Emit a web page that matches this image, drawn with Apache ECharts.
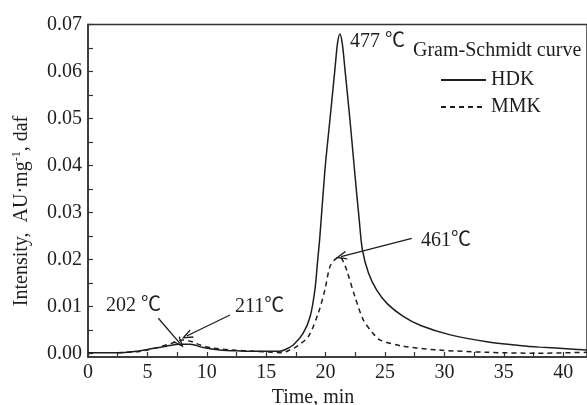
<!DOCTYPE html>
<html>
<head>
<meta charset="utf-8">
<script src="https://cdn.jsdelivr.net/npm/echarts@6/dist/echarts.min.js"></script>
<style>
html,body{margin:0;padding:0;background:#fff;}
#c{width:587px;height:405px;}
</style>
</head>
<body>
<div id="c"></div>
<script>
// ---- data ----
var hdkData = [
  [0,0.0002],[2.5,0.0002],[4,0.0005],[5,0.0009],[6.6,0.0016],[7.7,0.0020],[8.6,0.0020],
  [9.7,0.0013],[11.1,0.0008],[12.8,0.0006],[14.5,0.0005],[16.1,0.0005],[16.7,0.0010],
  [17.3,0.0019],[18.1,0.0043],[18.7,0.0079],[19.1,0.0136],[19.3,0.0190],[19.52,0.0250],
  [19.94,0.0390],[20.36,0.0497],[20.78,0.0604],[21.0,0.0660],[21.2,0.0680],[21.4,0.0660],
  [21.63,0.0604],[22.05,0.0497],[22.47,0.0380],[22.83,0.0284],[23.1,0.0220],[23.6,0.0172],
  [24.3,0.0135],[25.2,0.0106],[26.5,0.0080],[28.0,0.0060],[30.5,0.0040],[33.7,0.0025],
  [36.5,0.0017],[38.0,0.0014],[40.0,0.0011],[42.0,0.0008]
];
var mmkData = [
  [2.5,0.0002],[4,0.0004],[5,0.0008],[6,0.0014],[7,0.0022],[8,0.0029],[8.7,0.0026],
  [9.5,0.0018],[10.5,0.0012],[12,0.0008],[14,0.0005],[15.5,0.0003],[16.3,0.0002],
  [17.0,0.0008],[17.55,0.0015],[18.53,0.0036],[19.38,0.0086],[19.94,0.0136],[20.36,0.0185],
  [20.78,0.0200],[21.2,0.0206],[21.5,0.0195],[21.77,0.0178],[22.47,0.0121],[23.17,0.0072],
  [24.0,0.0043],[24.6,0.0029],[26.5,0.0016],[29.4,0.0008],[33.6,0.0003],[37.8,0.0001],[42.0,0.0003]
];
var seriesNames = ['HDK','MMK'];
var xTickValues = [0,2.5,5,7.5,10,12.5,15,17.5,20,22.5,25,27.5,30,32.5,35,37.5,40];
var xLabelValues = [0,5,10,15,20,25,30,35,40];
var yTickValues = [0,0.005,0.01,0.015,0.02,0.025,0.03,0.035,0.04,0.045,0.05,0.055,0.06,0.065,0.07];
var yLabelValues = [0,0.01,0.02,0.03,0.04,0.05,0.06,0.07];
// annotations: [label, x, y] (left edge / vertical middle of text)
var peakLabels = [
  ['477 ℃',22.05,0.0664],
  ['461℃',28.03,0.0240],
  ['202 ℃',1.52,0.0101],
  ['211℃',12.37,0.0099]
];
// arrows: [tailX, tailY, headX, headY]
var arrows = [
  [27.25,0.02454,21.3,0.02065],
  [5.92,0.00753,7.74,0.00221],
  [11.95,0.00823,8.31,0.00376]
];

var FONT = "'Liberation Serif','DejaVu Serif',serif";
var FONT_ANN = "'Liberation Serif','Noto Sans CJK SC',serif";
var INK = '#1e1e1e';
var chart = echarts.init(document.getElementById('c'), null, {renderer:'canvas'});

var chevron = 'path://M0,10 L5,0 L10,10 L8.4,10 L5,3.2 L1.6,10 Z';

chart.setOption({
  animation:false,
  backgroundColor:'#fff',
  grid:{left:88,top:24.5,right:0,bottom:48,show:true,borderColor:'#333',borderWidth:1.5,containLabel:false},
  title:{text:'Gram-Schmidt curve',left:413,top:40,padding:0,
    textStyle:{fontFamily:FONT,fontSize:20,fontWeight:'normal',color:INK,lineHeight:22}},
  legend:{data:seriesNames,orient:'vertical',left:440,top:70,itemWidth:45,itemHeight:14,itemGap:7,
    padding:0,itemStyle:{opacity:0},
    textStyle:{fontFamily:FONT,fontSize:20,color:INK,lineHeight:20}},
  xAxis:{type:'value',min:0,max:42,
    axisLine:{show:true,onZero:false,lineStyle:{color:'#333',width:1.5}},
    axisTick:{show:true,inside:true,length:5,customValues:xTickValues,lineStyle:{color:'#333',width:1.2}},
    axisLabel:{customValues:xLabelValues,fontFamily:FONT,fontSize:20,color:INK,margin:6},
    splitLine:{show:false}},
  yAxis:{type:'value',min:-0.0007,max:0.07,
    axisLine:{show:true,lineStyle:{color:'#333',width:1.5}},
    axisTick:{show:true,inside:true,length:5,customValues:yTickValues,lineStyle:{color:'#333',width:1.2}},
    axisLabel:{customValues:yLabelValues,fontFamily:FONT,fontSize:20,color:INK,margin:6,
      formatter:function(v){return v.toFixed(2);}},
    splitLine:{show:false}},
  graphic:[
    {type:'text',x:22,y:211,rotation:Math.PI/2,
      style:{text:'{n|Intensity,  AU·mg}{s|-1}{n|, daf}',align:'center',verticalAlign:'middle',fill:INK,
        rich:{n:{fontFamily:FONT,fontSize:20,lineHeight:22,fill:INK,color:INK},
              s:{fontFamily:FONT,fontSize:12,lineHeight:22,verticalAlign:'top',padding:[0,0,8,0],fill:INK,color:INK}}}},
    {type:'text',x:313,y:398,
      style:{text:'Time, min',align:'center',verticalAlign:'middle',fill:INK,font:'20px '+FONT}}
  ],
  series:[
    {name:seriesNames[0],type:'line',data:hdkData,showSymbol:false,symbol:'none',smooth:0.3,
      lineStyle:{color:INK,width:1.5,type:'solid'},itemStyle:{color:INK},
      markLine:{silent:true,animation:false,symbol:['none',chevron],symbolSize:[9,11],
        label:{show:false},lineStyle:{color:INK,width:1.3,type:'solid'},emphasis:{disabled:true},
        data:arrows.map(function(a){return [{coord:[a[0],a[1]]},{coord:[a[2],a[3]]}];})},
      markPoint:{silent:true,animation:false,symbol:'circle',symbolSize:0,
        label:{show:true,position:'right',distance:0,fontFamily:FONT_ANN,fontSize:20,color:INK,
          formatter:function(p){return p.name;}},
        data:peakLabels.map(function(l){return {name:l[0],coord:[l[1],l[2]]};})}
    },
    {name:seriesNames[1],type:'line',data:mmkData,showSymbol:false,symbol:'none',smooth:0.3,
      lineStyle:{color:INK,width:1.5,type:[5,4]},itemStyle:{color:INK}}
  ]
});
</script>
</body>
</html>
